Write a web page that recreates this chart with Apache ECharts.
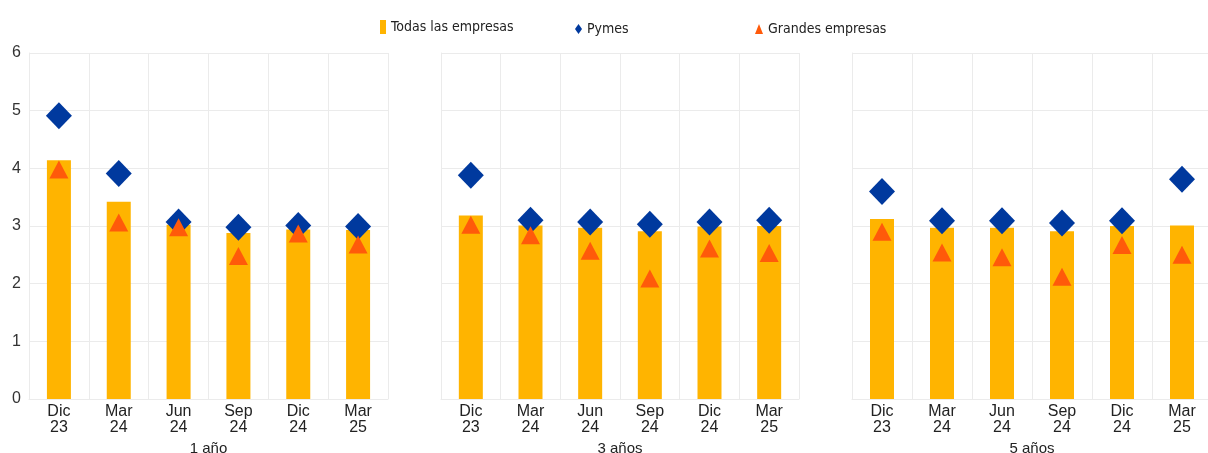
<!DOCTYPE html>
<html>
<head>
<meta charset="utf-8">
<script src="https://cdn.jsdelivr.net/npm/echarts@6/dist/echarts.min.js"></script>
<style>
  html, body { margin: 0; padding: 0; background: #fff; }
  #chart { width: 1208px; height: 453px; }
</style>
</head>
<body>
<div id="chart"></div>
<script>
// categorías y paneles
const categories = ['Dic\n23', 'Mar\n24', 'Jun\n24', 'Sep\n24', 'Dic\n24', 'Mar\n25']
const panelNames = ['1 año', '3 años', '5 años']
const yTicks = [0, 1, 2, 3, 4, 5, 6]

// 1 año
const todas1 = [4.14, 3.42, 3.02, 2.88, 2.94, 2.93]
const pymes1 = [4.91, 3.91, 3.07, 2.98, 3.01, 2.99]
const grandes1 = [3.98, 3.06, 2.98, 2.48, 2.87, 2.68]
// 3 años
const todas3 = [3.18, 3.01, 2.97, 2.91, 2.99, 3.00]
const pymes3 = [3.88, 3.10, 3.07, 3.03, 3.07, 3.10]
const grandes3 = [3.02, 2.84, 2.57, 2.09, 2.61, 2.53]
// 5 años
const todas5 = [3.12, 2.97, 2.97, 2.91, 3.00, 3.01]
const pymes5 = [3.60, 3.09, 3.09, 3.05, 3.09, 3.81]
const grandes5 = [2.90, 2.54, 2.46, 2.12, 2.67, 2.50]

const todas = [todas1, todas3, todas5]
const pymes = [pymes1, pymes3, pymes5]
const grandes = [grandes1, grandes3, grandes5]

const colorBar = '#FFB400'
const colorPymes = '#00399E'
const colorGrandes = '#FF5A0A'
const gridLine = '#ebebeb'
const narrow = '"DejaVu Sans Condensed", "Liberation Sans", Arial, sans-serif'

let chart = echarts.init(document.getElementById('chart'))

let grids = [
  { left: 29, top: 53, width: 359, height: 346, outerBoundsMode: 'none' },
  { left: 441, top: 53, width: 358, height: 346, outerBoundsMode: 'none' },
  { left: 852, top: 53, width: 360, height: 346, outerBoundsMode: 'none' }
]

let xAxes = grids.map((g, i) => ({
  type: 'category',
  gridIndex: i,
  data: categories,
  name: panelNames[i],
  nameLocation: 'middle',
  nameGap: 41,
  nameTextStyle: { fontSize: 15, color: '#222', fontFamily: 'Liberation Sans, Arial' },
  axisTick: { show: false },
  axisLine: { show: true, lineStyle: { color: gridLine } },
  axisLabel: { fontSize: 16, lineHeight: 16, color: '#222', margin: 5, fontFamily: 'Liberation Sans, Arial' },
  splitLine: { show: true, lineStyle: { color: gridLine } }
}))

let yAxes = grids.map((g, i) => ({
  type: 'value',
  gridIndex: i,
  min: yTicks[0],
  max: yTicks[yTicks.length - 1],
  interval: 1,
  axisLine: { show: true, lineStyle: { color: gridLine } },
  axisTick: { show: false },
  axisLabel: { show: i === 0, fontSize: 16, color: '#333', margin: 8, fontFamily: 'Liberation Sans, Arial' },
  splitLine: { lineStyle: { color: gridLine } }
}))

let series = []
for (let i = 0; i < 3; i++) {
  series.push({
    name: 'Todas las empresas',
    type: 'bar',
    xAxisIndex: i,
    yAxisIndex: i,
    barWidth: 24,
    itemStyle: { color: colorBar },
    data: todas[i]
  })
  series.push({
    name: 'Pymes',
    type: 'scatter',
    xAxisIndex: i,
    yAxisIndex: i,
    symbol: 'diamond',
    symbolSize: [26, 27],
    itemStyle: { color: colorPymes, opacity: 1 },
    data: pymes[i]
  })
  series.push({
    name: 'Grandes empresas',
    type: 'scatter',
    xAxisIndex: i,
    yAxisIndex: i,
    symbol: 'triangle',
    symbolSize: [19, 18],
    itemStyle: { color: colorGrandes, opacity: 1 },
    data: grandes[i]
  })
}

let legendText = { fontSize: 14, color: '#222', fontFamily: narrow }
let option = {
  animation: false,
  legend: [
    { left: 380, top: 20, padding: 0, icon: 'rect', itemWidth: 6, itemHeight: 14, textStyle: legendText, data: ['Todas las empresas'] },
    { left: 575, top: 22, padding: 0, icon: 'diamond', itemWidth: 7, itemHeight: 10, textStyle: legendText, data: ['Pymes'] },
    { left: 755, top: 22, padding: 0, icon: 'triangle', itemWidth: 8, itemHeight: 10, textStyle: legendText, data: ['Grandes empresas'] }
  ],
  grid: grids,
  xAxis: xAxes,
  yAxis: yAxes,
  series: series
}
chart.setOption(option, true)
</script>
</body>
</html>
